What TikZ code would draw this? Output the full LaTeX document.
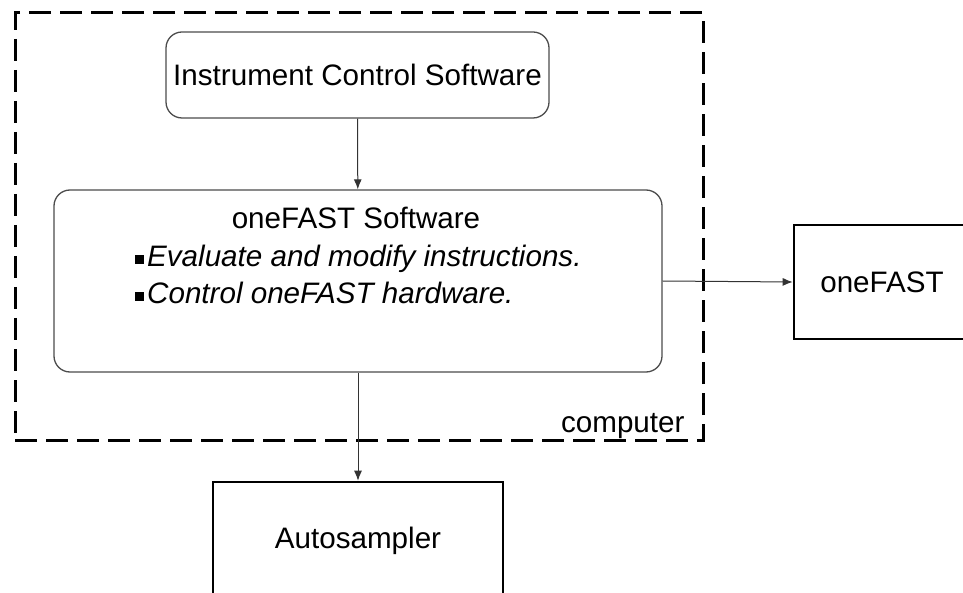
\documentclass[tikz,border=0pt]{standalone}
\usepackage{fontspec}
\setmainfont{Liberation Sans}
\usetikzlibrary{shapes,arrows.meta}

\begin{document}
\begin{tikzpicture}[x=1pt, y=-1pt, font=\fontsize{29.6pt}{34pt}\selectfont]
\tikzstyle{softbox}=[rectangle, rounded corners=16pt, draw=black!70, line width=1.3pt, inner sep=0pt]
\tikzstyle{hardbox}=[rectangle, draw=black, line width=2.6pt, inner sep=0pt]
\tikzstyle{framebox}=[rectangle, draw=black, line width=3pt, dash pattern=on 22pt off 9pt, inner sep=0pt]
\tikzstyle{drawstyle}=[line width=1pt, draw=black!80, -{Latex[length=10pt, width=8pt]}]
\newcommand{\bul}{\rule[3pt]{9pt}{9pt}\hspace{3pt}}

\clip (0,0) rectangle (963,593);
\node[framebox, minimum width=688pt, minimum height=427pt] (pc) at (359,226.5) {};
\node[anchor=base east] (pclabel) at (688,432) {computer};
\node[softbox, minimum width=383pt, minimum height=86pt] (ics) at (357.5,75) {Instrument Control Software};
\node[softbox, minimum width=608pt, minimum height=182pt] (sw) at (358,281) {};
\node[anchor=base] (swtitle) at (356,229) {oneFAST Software};
\node[anchor=base west, inner sep=0pt] (swa) at (135,267) {\bul\textit{Evaluate and modify instructions.}};
\node[anchor=base west, inner sep=0pt] (swb) at (135,304) {\bul\textit{Control oneFAST hardware.}};
\node[hardbox, minimum width=176pt, minimum height=114pt] (fast) at (882,282) {oneFAST};
\node[hardbox, minimum width=290pt, minimum height=118pt] (auto) at (358,541) {Autosampler};
\draw[drawstyle] (ics) -- (sw);
\draw[drawstyle] (sw.east) -- (fast.west);
\draw[drawstyle] (sw) -- (auto);
\end{tikzpicture}
\end{document}
